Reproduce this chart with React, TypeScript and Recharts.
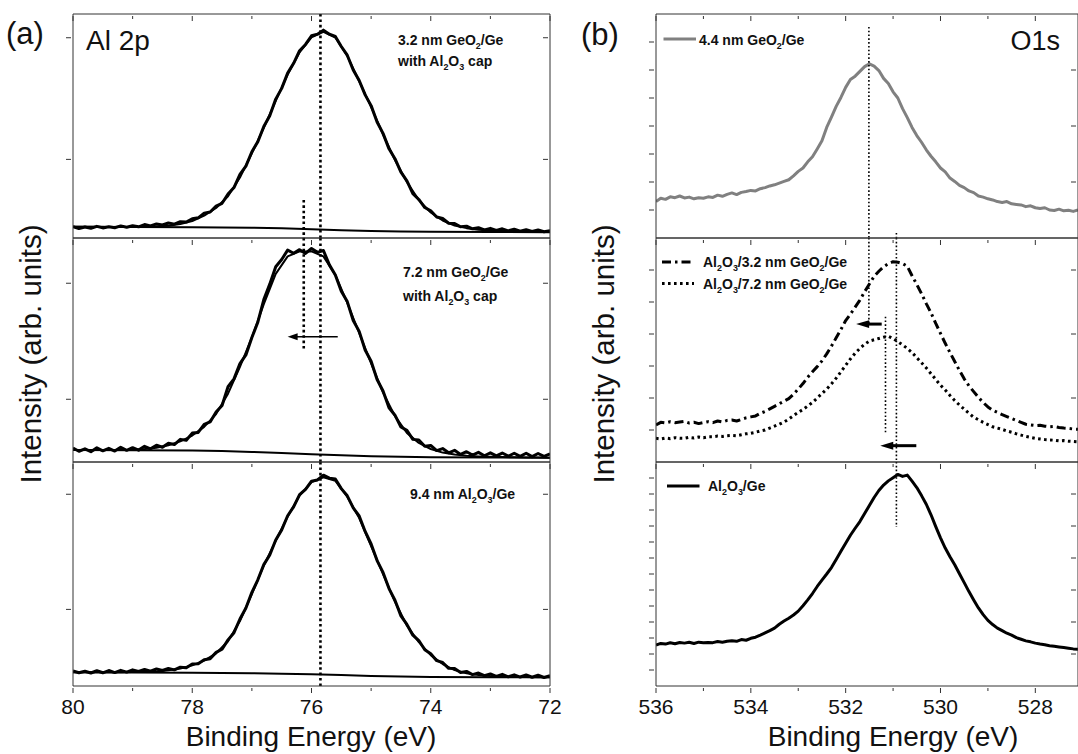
import React from 'react';
import { LineChart, Line, XAxis, YAxis, ReferenceLine } from 'recharts';

const FONT = '"Liberation Sans", Arial, Helvetica, sans-serif';
const AX = '#333333';
const PAD = 12;
const LP = 34;
const RP = 22;

// ---------------- Al 2p (panel a) ----------------
const alEnergy = [80.0,79.9,79.8,79.7,79.6,79.5,79.4,79.3,79.2,79.1,79.0,78.9,78.8,78.7,78.6,78.5,78.4,78.3,78.2,78.1,78.0,77.9,77.8,77.7,77.6,77.5,77.4,77.3,77.2,77.1,77.0,76.9,76.8,76.7,76.6,76.5,76.4,76.3,76.2,76.1,76.0,75.9,75.8,75.7,75.6,75.5,75.4,75.3,75.2,75.1,75.0,74.9,74.8,74.7,74.6,74.5,74.4,74.3,74.2,74.1,74.0,73.9,73.8,73.7,73.6,73.5,73.4,73.3,73.2,73.1,73.0,72.9,72.8,72.7,72.6,72.5,72.4,72.3,72.2,72.1,72.0];
const alFitEnergy = [80.0,79.8,79.6,79.4,79.2,79.0,78.8,78.6,78.4,78.2,78.0,77.8,77.6,77.4,77.2,77.0,76.8,76.6,76.4,76.2,76.0,75.8,75.6,75.4,75.2,75.0,74.8,74.6,74.4,74.2,74.0,73.8,73.6,73.4,73.2,73.0,72.8,72.6,72.4,72.2,72.0];
const alBgEnergy = [80,79,78,77.5,77,76.5,76,75.5,75,74.5,74,73,72];

// 3.2 nm GeO2/Ge with Al2O3 cap
const al32Data = [5.1,4.2,4.9,4.3,5.2,4.5,5.0,4.6,5.4,4.8,5.5,5.0,6.0,5.4,6.3,5.8,6.7,6.2,7.3,7.1,8.6,9.0,11.1,11.6,14.2,15.5,19.6,22.5,28.4,32.1,38.5,43.0,49.8,54.6,62.0,66.8,73.6,78.0,83.6,86.4,90.3,91.0,92.8,91.0,90.0,85.5,81.6,75.0,70.3,63.9,59.1,51.8,46.7,39.8,35.4,29.4,25.5,19.8,17.2,13.6,12.1,9.4,8.7,6.6,6.5,5.0,5.3,4.1,4.6,3.6,4.3,3.4,4.1,3.2,3.9,3.0,3.7,2.9,3.6,2.8,3.3];
const al32Fit = [5.0,5.0,5.0,4.9,4.9,4.9,5.0,5.2,5.5,6.2,7.6,10.0,13.4,18.6,27.0,37.8,49.2,61.2,73.0,82.9,89.6,92.0,89.5,81.3,70.0,58.5,46.2,34.8,25.0,16.9,11.4,7.8,5.6,4.4,3.7,3.3,3.1,3.0,2.9,2.8,2.7];
const al32Bg = [5.0,4.9,4.8,4.7,4.6,4.3,3.9,3.5,3.1,2.9,2.8,2.7,2.6];

// 7.2 nm GeO2/Ge with Al2O3 cap
const al72Data = [6.2,4.8,5.9,4.6,6.3,5.0,6.1,4.9,6.6,5.2,6.4,5.3,7.0,5.9,7.5,6.6,8.4,7.8,10.1,9.7,12.9,13.2,16.8,17.9,22.3,25.2,33.6,37.1,43.9,47.8,55.6,62.4,72.5,79.4,87.2,90.4,94.6,93.2,94.8,93.1,95.3,93.6,94.4,88.0,83.5,76.2,71.6,63.2,58.3,50.0,45.0,36.8,31.7,24.2,20.9,15.6,14.1,10.1,9.8,7.0,7.4,5.1,6.0,4.1,5.2,3.4,4.6,3.1,4.3,2.8,4.1,2.7,4.0,2.6,3.9,2.5,3.9,2.4,3.8,2.5,3.6];
const al72Fit = [5.4,5.4,5.4,5.4,5.4,5.5,5.8,6.4,7.5,9.2,11.8,15.7,21.4,30.5,42.5,55.6,70.5,84.0,91.8,94.0,94.0,91.8,83.5,71.0,57.5,44.0,31.0,20.5,13.0,8.5,5.8,4.2,3.3,2.8,2.5,2.3,2.2,2.1,2.0,2.0,1.9];
const al72Bg = [5.4,5.3,5.1,4.9,4.5,4.0,3.5,3.0,2.6,2.3,2.1,2.0,1.9];

// 9.4 nm Al2O3/Ge
const al94Data = [6.7,5.9,6.6,5.8,6.8,5.9,6.9,6.0,7.0,6.2,7.2,6.5,7.4,6.6,7.6,6.9,7.8,7.2,8.4,8.1,9.8,9.9,11.7,12.2,15.0,16.4,20.6,23.8,29.9,34.8,41.8,47.4,54.2,58.5,65.2,69.7,76.0,80.0,85.4,87.8,91.4,92.0,94.1,92.8,92.4,88.1,84.9,79.5,75.9,69.0,63.4,56.0,50.7,43.5,38.3,31.3,27.5,22.7,20.3,16.2,14.4,11.3,10.5,7.9,7.8,6.0,6.5,5.1,5.8,4.6,5.4,4.3,5.2,4.1,5.0,4.0,4.9,3.9,4.8,3.8,4.6];
const al94Fit = [6.1,6.1,6.1,6.1,6.1,6.2,6.3,6.5,7.0,7.8,9.2,11.3,14.6,20.0,29.0,41.0,53.8,64.8,75.6,85.0,91.0,93.2,91.6,84.5,75.0,62.5,50.0,37.6,27.0,19.6,13.8,9.8,7.1,5.7,4.9,4.5,4.3,4.1,4.0,3.9,3.9];
const al94Bg = [6.1,6.0,5.9,5.8,5.7,5.5,5.2,4.9,4.5,4.2,4.0,3.9,3.9];

const alXTicks = [72,73,74,75,76,77,78,79,80];
const al32YTicks = [35.1, 89.4];
const al72YTicks = [28.0, 79.8];
const al94YTicks = [34.2, 85.6];

// ---------------- O 1s (panel b) ----------------
const oEnergy = [536.0,535.9,535.8,535.7,535.6,535.5,535.4,535.3,535.2,535.1,535.0,534.9,534.8,534.7,534.6,534.5,534.4,534.3,534.2,534.1,534.0,533.9,533.8,533.7,533.6,533.5,533.4,533.3,533.2,533.1,533.0,532.9,532.8,532.7,532.6,532.5,532.4,532.3,532.2,532.1,532.0,531.9,531.8,531.7,531.6,531.5,531.4,531.3,531.2,531.1,531.0,530.9,530.8,530.7,530.6,530.5,530.4,530.3,530.2,530.1,530.0,529.9,529.8,529.7,529.6,529.5,529.4,529.3,529.2,529.1,529.0,528.9,528.8,528.7,528.6,528.5,528.4,528.3,528.2,528.1,528.0,527.9,527.8,527.7,527.6,527.5,527.4,527.3,527.2,527.1];
const o44GeO2 = [1.30,1.42,1.38,1.47,1.44,1.50,1.43,1.46,1.40,1.44,1.42,1.47,1.45,1.53,1.49,1.56,1.61,1.55,1.63,1.66,1.70,1.68,1.76,1.80,1.86,1.90,1.96,2.02,2.08,2.22,2.38,2.50,2.72,2.90,3.18,3.47,3.95,4.32,4.70,5.02,5.38,5.66,5.78,5.95,6.12,6.22,6.14,5.98,5.70,5.52,5.22,5.00,4.62,4.30,3.95,3.66,3.42,3.15,2.92,2.72,2.50,2.36,2.14,2.02,1.88,1.80,1.68,1.62,1.50,1.46,1.40,1.36,1.30,1.27,1.30,1.22,1.20,1.18,1.12,1.15,1.08,1.05,1.08,1.00,0.98,1.03,0.97,0.99,0.95,1.00];
const oAl32 = [1.16,1.24,1.22,1.26,1.23,1.25,1.27,1.22,1.24,1.20,1.23,1.26,1.23,1.28,1.25,1.30,1.31,1.28,1.33,1.38,1.41,1.44,1.52,1.58,1.66,1.74,1.82,1.90,1.98,2.12,2.28,2.45,2.65,2.82,2.98,3.16,3.38,3.62,3.88,4.14,4.42,4.62,4.84,5.06,5.32,5.56,5.80,5.96,6.10,6.20,6.26,6.24,6.20,6.12,5.82,5.55,5.26,4.95,4.66,4.33,4.02,3.71,3.42,3.14,2.86,2.60,2.38,2.20,2.02,1.86,1.72,1.62,1.55,1.48,1.42,1.36,1.30,1.24,1.18,1.16,1.14,1.15,1.12,1.10,1.11,1.08,1.06,1.05,1.03,1.02];
const oAl72 = [0.74,0.72,0.75,0.73,0.76,0.74,0.74,0.77,0.75,0.78,0.76,0.79,0.79,0.81,0.80,0.82,0.83,0.82,0.85,0.88,0.90,0.93,0.97,1.00,1.06,1.12,1.18,1.25,1.34,1.45,1.55,1.64,1.75,1.86,2.00,2.14,2.28,2.44,2.62,2.82,3.02,3.22,3.40,3.55,3.68,3.78,3.82,3.86,3.90,3.93,3.86,3.76,3.66,3.55,3.42,3.26,3.10,2.94,2.76,2.58,2.40,2.25,2.08,1.92,1.78,1.65,1.52,1.40,1.32,1.24,1.17,1.10,1.06,1.02,0.97,0.93,0.88,0.84,0.80,0.77,0.74,0.72,0.70,0.69,0.68,0.66,0.67,0.65,0.64,0.63];
const oAlGe = [2.56,2.66,2.62,2.70,2.64,2.72,2.68,2.73,2.66,2.74,2.70,2.72,2.71,2.78,2.74,2.80,2.83,2.79,2.90,2.86,2.98,3.05,3.18,3.32,3.46,3.62,3.86,4.06,4.24,4.44,4.68,5.02,5.38,5.78,6.22,6.62,7.00,7.40,7.90,8.42,8.92,9.42,9.86,10.28,10.78,11.28,11.78,12.22,12.56,12.82,13.02,13.22,13.10,13.18,12.80,12.40,11.90,11.36,10.70,9.96,9.26,8.62,8.08,7.58,7.02,6.46,5.90,5.38,4.88,4.46,4.10,3.84,3.62,3.46,3.30,3.18,3.02,2.92,2.82,2.76,2.68,2.62,2.58,2.52,2.48,2.44,2.40,2.36,2.32,2.30];

const oXTicks = [528,529,530,531,532,533,534,535,536];
const oTopYTicks = [1,2,3,4,5,6,7];
const oMidYTicks = [1,2,3,4,5,6];
const oBotYTicks = [1,2,3,4,5,6,7,8,9,10,11,12,13];

// ---------------- helpers ----------------
type Pt = { x: number; y: number };
const zip = (e: number[], v: number[]): Pt[] => e.map((x, i) => ({ x, y: v[i] }));
const isEven = (v: number) => Math.abs(Math.round(v)) % 2 === 0;
const always = () => true;

const bottomTick = (labels: boolean, fs: number) => (p: any) => {
  const { x, y, payload } = p;
  const m = isEven(payload.value);
  const len = m ? 5 : 3;
  return (
    <g>
      <line x1={x} y1={y} x2={x} y2={y + len} stroke={AX} strokeWidth={1} />
      {labels && m ? (
        <text x={x} y={y + 11} dy="0.71em" textAnchor="middle" fontSize={fs} fontFamily={FONT} fill="#111">
          {payload.value}
        </text>
      ) : null}
    </g>
  );
};
const topTick = (p: any) => {
  const { x, y, payload } = p;
  const len = isEven(payload.value) ? 5 : 3;
  return <line x1={x} y1={y} x2={x} y2={y + len} stroke={AX} strokeWidth={1} />;
};
const leftTick = (p: any) => {
  const { x, y } = p;
  return <line x1={x} y1={y} x2={x - 5} y2={y} stroke={AX} strokeWidth={1} />;
};
const rightTick = (show: (v: number) => boolean) => (p: any) => {
  const { x, y, payload } = p;
  if (!show(payload.value)) return <g />;
  return <line x1={x} y1={y} x2={x - 5} y2={y} stroke={AX} strokeWidth={1} />;
};

const arrowShape = (w: number, hl: number, hw: number) => (p: any) => {
  const { x1, y1, x2, y2 } = p;
  const dir = x2 >= x1 ? 1 : -1;
  const bx = x2 - dir * hl;
  return (
    <g>
      <line x1={x1} y1={y1} x2={bx + dir} y2={y2} stroke="#000" strokeWidth={w} />
      <polygon points={`${x2},${y2} ${bx},${y2 - hw} ${bx},${y2 + hw}`} fill="#000" />
    </g>
  );
};

type PanelDef = {
  left: number; top: number; w: number; h: number; bottomH: number;
  xDomain: [number, number]; xTicks: number[]; xLabels: boolean;
  yDomain: [number, number]; yTicks: number[]; rightShow: (v: number) => boolean;
};

function Panel({ d, children }: { d: PanelDef; children?: React.ReactNode }) {
  const W = d.w + LP + RP;
  const H = d.h + PAD + d.bottomH;
  return (
    <div style={{ position: 'absolute', left: d.left - LP, top: d.top - PAD, width: W, height: H }}>
      <LineChart width={W} height={H} margin={{ top: PAD, right: RP, bottom: 0, left: 0 }}>
        <XAxis xAxisId="b" type="number" dataKey="x" domain={d.xDomain} reversed allowDataOverflow
          ticks={d.xTicks} interval={0} height={d.bottomH} tickSize={0} tickLine={false}
          axisLine={{ stroke: AX, strokeWidth: 1 }}
          tick={d.xLabels ? bottomTick(true, 21) : false} />
        <XAxis xAxisId="t" orientation="top" mirror type="number" dataKey="x" domain={d.xDomain} reversed allowDataOverflow
          ticks={d.xTicks} interval={0} height={PAD} tickSize={0} tickLine={false}
          axisLine={{ stroke: AX, strokeWidth: 1 }} tick={topTick} />
        <YAxis yAxisId="l" type="number" domain={d.yDomain} allowDataOverflow ticks={d.yTicks} interval={0}
          width={LP} tickSize={0} tickLine={false} axisLine={{ stroke: AX, strokeWidth: 1 }} tick={leftTick} />
        <YAxis yAxisId="r" orientation="right" mirror type="number" domain={d.yDomain} allowDataOverflow
          ticks={d.yTicks} interval={0} width={RP} tickSize={0} tickLine={false}
          axisLine={{ stroke: AX, strokeWidth: 1 }} tick={rightTick(d.rightShow)} />
        {children}
      </LineChart>
    </div>
  );
}

const L = { left: 73, w: 477 };
const R = { left: 655.5, w: 422 };
const ROWS = [14, 238, 462];
const RH = 224;

const line = (key: string, data: Pt[], stroke: string, width: number, dash?: string) => (
  <Line key={key} xAxisId="b" yAxisId="l" data={data} dataKey="y" type="linear" dot={false} activeDot={false}
    stroke={stroke} strokeWidth={width} strokeDasharray={dash} strokeLinejoin="round"
    isAnimationActive={false} />
);

const dotRefA = (key: string, x: number, y1?: number, y2?: number) =>
  y1 === undefined ? (
    <ReferenceLine key={key} xAxisId="b" yAxisId="l" x={x} stroke="#000" strokeWidth={2.6} strokeDasharray="2.6 2.8" />
  ) : (
    <ReferenceLine key={key} xAxisId="b" yAxisId="l" segment={[{ x, y: y1 }, { x, y: y2 }]} stroke="#000" strokeWidth={2.6} strokeDasharray="2.6 2.8" />
  );
const dotRefB = (key: string, x: number, y1: number, y2: number) => (
  <ReferenceLine key={key} xAxisId="b" yAxisId="l" segment={[{ x, y: y1 }, { x, y: y2 }]} stroke="#000" strokeWidth={1.6} strokeDasharray="1.6 2.2" />
);
const arrow = (key: string, xTail: number, xHead: number, y: number, w: number, hl: number, hw: number) => (
  <ReferenceLine key={key} xAxisId="b" yAxisId="l" segment={[{ x: xTail, y }, { x: xHead, y }]} stroke="#000" shape={arrowShape(w, hl, hw)} />
);

type Part = [string, boolean];
function Chem({ x, y, parts, fs, weight = 'bold' }: { x: number; y: number; parts: Part[]; fs: number; weight?: string }) {
  const sd = fs * 0.3;
  let shifted = false;
  return (
    <text x={x} y={y} fontSize={fs} fontWeight={weight} fontFamily={FONT} fill="#111">
      {parts.map(([t, s], i) => {
        const dy = s ? (shifted ? 0 : sd) : shifted ? -sd : 0;
        shifted = s;
        return (
          <tspan key={i} dy={dy} fontSize={s ? fs * 0.64 : fs}>
            {t}
          </tspan>
        );
      })}
    </text>
  );
}

export default function App() {
  const alBase = { left: L.left, w: L.w, h: RH, xDomain: [72, 80] as [number, number], xTicks: alXTicks, yDomain: [0, 100] as [number, number], rightShow: always };
  const oBase = { left: R.left, w: R.w, h: RH, xDomain: [527.1, 536] as [number, number], xTicks: oXTicks, rightShow: isEven };

  return (
    <div style={{ position: 'absolute', left: 0, top: 0, width: 1078, height: 754, overflow: 'hidden', background: '#fff' }}>
      {/* panel (a) */}
      <Panel d={{ ...alBase, top: ROWS[0], bottomH: PAD, xLabels: false, yTicks: al32YTicks }}>
        {line('d32', zip(alEnergy, al32Data), '#000', 3)}
        {line('f32', zip(alFitEnergy, al32Fit), '#000', 2)}
        {line('b32', zip(alBgEnergy, al32Bg), '#000', 2)}
        {dotRefA('v1', 75.85)}
        {dotRefA('v2', 76.13, 17, 0)}
      </Panel>
      <Panel d={{ ...alBase, top: ROWS[1], bottomH: PAD, xLabels: false, yTicks: al72YTicks }}>
        {line('d72', zip(alEnergy, al72Data), '#000', 3)}
        {line('f72', zip(alFitEnergy, al72Fit), '#000', 2)}
        {line('b72', zip(alBgEnergy, al72Bg), '#000', 2)}
        {dotRefA('v1', 75.85)}
        {dotRefA('v2', 76.13, 100, 50)}
        {arrow('a1', 75.56, 76.40, 55.9, 1.6, 10, 3.5)}
      </Panel>
      <Panel d={{ ...alBase, top: ROWS[2], bottomH: 40, xLabels: true, yTicks: al94YTicks }}>
        {line('d94', zip(alEnergy, al94Data), '#000', 3)}
        {line('f94', zip(alFitEnergy, al94Fit), '#000', 2)}
        {line('b94', zip(alBgEnergy, al94Bg), '#000', 2)}
        {dotRefA('v1', 75.85)}
      </Panel>

      {/* panel (b) */}
      <Panel d={{ ...oBase, top: ROWS[0], bottomH: PAD, xLabels: false, yDomain: [0, 8], yTicks: oTopYTicks }}>
        {line('g44', zip(oEnergy, o44GeO2), '#808080', 3)}
        {dotRefB('v1', 531.51, 7.54, 0)}
        {dotRefB('v2', 530.93, 0.18, 0)}
      </Panel>
      <Panel d={{ ...oBase, top: ROWS[1], bottomH: PAD, xLabels: false, yDomain: [0, 7], yTicks: oMidYTicks }}>
        {line('a32', zip(oEnergy, oAl32), '#000', 3, '9 4 2.5 4')}
        {line('a72', zip(oEnergy, oAl72), '#000', 3, '2.6 3.4')}
        {dotRefB('v1', 531.51, 7, 4.34)}
        {dotRefB('v2', 530.93, 7, 0)}
        {dotRefB('v3', 531.16, 4.54, 0.9)}
        {arrow('ar1', 531.24, 531.78, 4.31, 3, 13, 3.8)}
        {arrow('ar2', 530.51, 531.27, 0.51, 3, 13, 4)}
      </Panel>
      <Panel d={{ ...oBase, top: ROWS[2], bottomH: 40, xLabels: true, yDomain: [0, 14], yTicks: oBotYTicks }}>
        {line('alge', zip(oEnergy, oAlGe), '#000', 3)}
        {dotRefB('v2', 530.93, 14, 9.94)}
      </Panel>

      {/* text overlay */}
      <svg width={1078} height={754} style={{ position: 'absolute', left: 0, top: 0, pointerEvents: 'none' }}>
        <text x={6} y={44} fontSize={31} fontFamily={FONT} fill="#111">(a)</text>
        <text x={581} y={45} fontSize={31} fontFamily={FONT} fill="#111">(b)</text>
        <text x={86} y={50} fontSize={28} fontFamily={FONT} fill="#111">Al 2p</text>
        <text x={1060} y={50} fontSize={27} fontFamily={FONT} fill="#111" textAnchor="end">O1s</text>

        <Chem x={398} y={45} fs={14} parts={[['3.2 nm GeO', false], ['2', true], ['/Ge', false]]} />
        <Chem x={398} y={66} fs={14} parts={[['with Al', false], ['2', true], ['O', false], ['3', true], [' cap', false]]} />
        <Chem x={403} y={277} fs={14} parts={[['7.2 nm GeO', false], ['2', true], ['/Ge', false]]} />
        <Chem x={403} y={301} fs={14} parts={[['with Al', false], ['2', true], ['O', false], ['3', true], [' cap', false]]} />
        <Chem x={410} y={499} fs={14} parts={[['9.4 nm Al', false], ['2', true], ['O', false], ['3', true], ['/Ge', false]]} />

        <line x1={663.5} y1={39} x2={696} y2={39} stroke="#808080" strokeWidth={3} />
        <Chem x={699} y={45} fs={14} parts={[['4.4 nm GeO', false], ['2', true], ['/Ge', false]]} />
        <line x1={662} y1={262} x2={694} y2={262} stroke="#000" strokeWidth={3} strokeDasharray="9 4 2.5 4" />
        <Chem x={703} y={267} fs={14} parts={[['Al', false], ['2', true], ['O', false], ['3', true], ['/3.2 nm GeO', false], ['2', true], ['/Ge', false]]} />
        <line x1={662} y1={283.5} x2={694} y2={283.5} stroke="#000" strokeWidth={3} strokeDasharray="2.6 3.4" />
        <Chem x={703} y={289} fs={14} parts={[['Al', false], ['2', true], ['O', false], ['3', true], ['/7.2 nm GeO', false], ['2', true], ['/Ge', false]]} />
        <line x1={667} y1={486} x2={699.5} y2={486} stroke="#000" strokeWidth={3} />
        <Chem x={708} y={491} fs={14} parts={[['Al', false], ['2', true], ['O', false], ['3', true], ['/Ge', false]]} />

        <text x={41} y={354} fontSize={29.5} fontFamily={FONT} fill="#111" textAnchor="middle" transform="rotate(-90 41 354)">Intensity (arb. units)</text>
        <text x={614} y={354} fontSize={29.5} fontFamily={FONT} fill="#111" textAnchor="middle" transform="rotate(-90 614 354)">Intensity (arb. units)</text>
        <text x={311} y={746} fontSize={28} fontFamily={FONT} fill="#111" textAnchor="middle">Binding Energy (eV)</text>
        <text x={893} y={746} fontSize={28} fontFamily={FONT} fill="#111" textAnchor="middle">Binding Energy (eV)</text>
      </svg>
    </div>
  );
}
